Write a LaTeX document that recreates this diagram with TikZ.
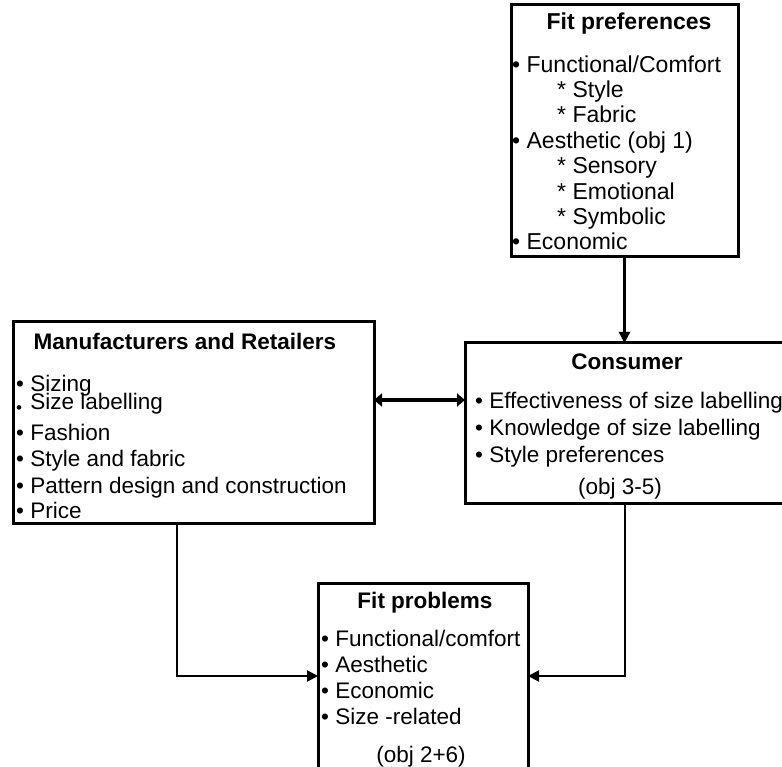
\documentclass[tikz,border=0pt]{standalone}
\usepackage{fontspec}
\setmainfont{Liberation Sans}
\usetikzlibrary{arrows.meta,positioning}

\begin{document}
\begin{tikzpicture}[x=1pt,y=-1pt]
  \tikzstyle{box}=[draw,line width=3pt,anchor=north west,inner sep=0pt,outer sep=0pt]
  \tikzstyle{head}=[anchor=base,inner sep=0pt,font=\fontsize{22.5}{26}\selectfont\bfseries]
  \tikzstyle{items}=[anchor=base west,align=left,inner sep=0pt,font=\fontsize{22.5}{26.5}\selectfont]
  \tikzstyle{link}=[line width=2.4pt,-{Triangle[length=11pt,width=11pt]}]
  \useasboundingbox (0,0) rectangle (782,767);
  \clip (0,0) rectangle (782,767);

  % the four boxes
  \node[box,minimum width=227pt,minimum height=252pt] (pref) at (511,5) {};
  \node[box,minimum width=361pt,minimum height=201pt] (manu) at (13,322) {};
  \node[box,minimum width=324pt,minimum height=160pt] (cons) at (465,343) {};
  \node[box,minimum width=210pt,minimum height=186pt] (prob) at (318,583) {};

  % texts (lists sit on the baseline of their last line)
  \node[head,font=\fontsize{23}{26}\selectfont\bfseries] (prefHead) at (629,30) {Fit preferences};
  \node[items,font=\fontsize{23}{25.4}\selectfont] (prefList) at (512,250)
    {\textbullet\ Functional/Comfort\\ \hspace*{45pt}* Style\\ \hspace*{45pt}* Fabric\\
     \textbullet\ Aesthetic (obj 1)\\ \hspace*{45pt}* Sensory\\ \hspace*{45pt}* Emotional\\
     \hspace*{45pt}* Symbolic\\ \textbullet\ Economic};

  \node[head] (manuHead) at (185,350) {Manufacturers and Retailers};
  \node[items] (manuList) at (16,518)
    {\textbullet\ Sizing\\[-8.5pt]
     \rlap{\raisebox{-4pt}{\fontsize{17}{17}\selectfont\textbullet}}\phantom{\textbullet}\ Size labelling\\[4.5pt]
     \textbullet\ Fashion\\ \textbullet\ Style and fabric\\
     \textbullet\ Pattern design and construction\\[-1.5pt] \textbullet\ Price};

  \node[head] (consHead) at (627,370) {Consumer};
  \node[items,font=\fontsize{22.5}{27}\selectfont] (consList) at (475,462)
    {\textbullet\ Effectiveness of size labelling\\ \textbullet\ Knowledge of size labelling\\
     \textbullet\ Style preferences};
  \node[anchor=base,inner sep=0pt,font=\fontsize{22.5}{26}\selectfont] (consObj) at (620,494) {(obj 3-5)};

  \node[head] (probHead) at (425,608) {Fit problems};
  \node[items,font=\fontsize{22.5}{25.7}\selectfont] (probList) at (321,724)
    {\textbullet\ Functional/comfort\\ \textbullet\ Aesthetic\\ \textbullet\ Economic\\
     \textbullet\ Size -related};
  \node[anchor=base,inner sep=0pt,font=\fontsize{22.5}{26}\selectfont] (probObj) at (421,762) {(obj 2+6)};

  % connectors
  \coordinate (dbl) at (420,400);
  \draw[link] (pref.south) -- (pref.south |- cons.north);
  \draw[line width=4pt,{Triangle[length=8pt,width=13pt]}-{Triangle[length=8pt,width=13pt]}]
    (manu.east |- dbl) -- (cons.west |- dbl);
  \draw[link] ([xshift=164pt]manu.south west) |- (prob.west);
  \draw[link] ([xshift=160pt]cons.south west) |- (prob.east);
\end{tikzpicture}
\end{document}
